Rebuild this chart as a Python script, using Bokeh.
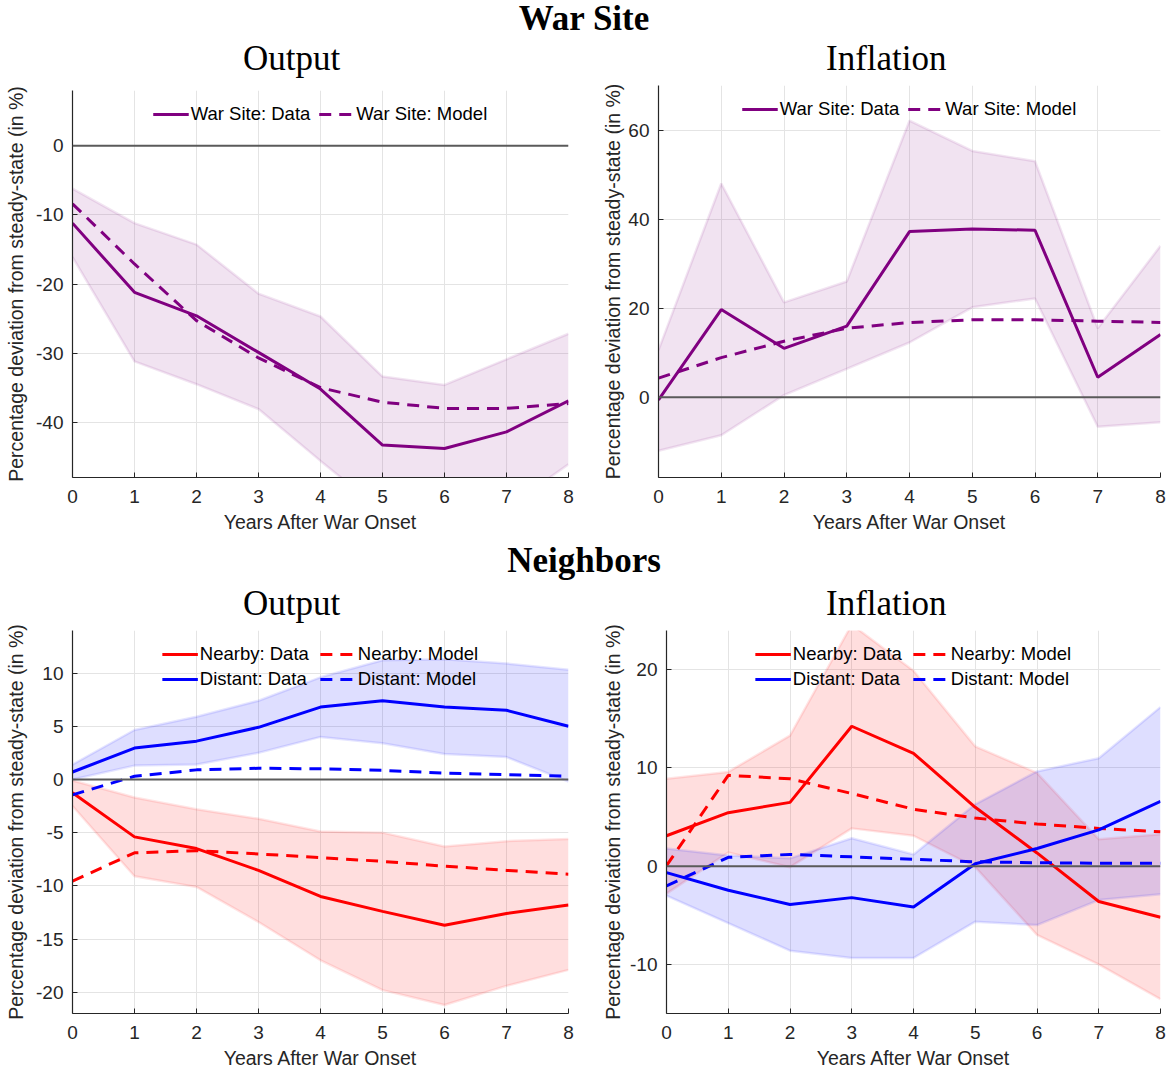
from bokeh.plotting import figure
from bokeh.models import Range1d, Span, Legend, LegendItem, Div, FixedTicker
from bokeh.layouts import column, row
from bokeh.embed import file_html
from bokeh.resources import INLINE

years = [0, 1, 2, 3, 4, 5, 6, 7, 8]
x_ticks = [0, 1, 2, 3, 4, 5, 6, 7, 8]
x_tick_labels = ["0", "1", "2", "3", "4", "5", "6", "7", "8"]

# War site: output
ws_out_data = [-11.2, -21.2, -24.6, -29.9, -35.2, -43.3, -43.8, -41.4, -36.9]
ws_out_model = [-8.4, -17.1, -25.3, -30.7, -35.0, -37.1, -38.0, -38.0, -37.3]
ws_out_hi = [-6.2, -11.2, -14.3, -21.4, -24.7, -33.4, -34.6, -30.9, -27.2]
ws_out_lo = [-16.1, -31.2, -34.5, -38.1, -45.6, -52.9, -55.0, -52.4, -46.1]
ws_out_yticks = [-40, -30, -20, -10, 0]
ws_out_ylabels = ["-40", "-30", "-20", "-10", "0"]

# War site: inflation
ws_inf_data = [-0.6, 19.7, 11.0, 16.0, 37.2, 37.8, 37.5, 4.5, 14.1]
ws_inf_model = [4.3, 8.9, 12.6, 15.5, 16.8, 17.4, 17.4, 17.1, 16.8]
ws_inf_hi = [10.6, 48.0, 21.3, 26.0, 62.1, 55.3, 53.0, 15.5, 34.0]
ws_inf_lo = [-12.0, -8.5, 0.5, 6.4, 12.3, 20.2, 22.2, -6.6, -5.6]
ws_inf_yticks = [0, 20, 40, 60]
ws_inf_ylabels = ["0", "20", "40", "60"]

# Neighbors: output
nb_out_near_data = [-1.25, -5.4, -6.5, -8.55, -11.0, -12.4, -13.7, -12.6, -11.8]
nb_out_near_model = [-9.55, -6.9, -6.7, -7.0, -7.35, -7.7, -8.15, -8.55, -8.9]
nb_out_near_hi = [-0.1, -1.7, -2.8, -3.7, -4.9, -5.0, -6.3, -5.8, -5.6]
nb_out_near_lo = [-2.5, -9.1, -10.1, -13.4, -17.0, -19.8, -21.2, -19.4, -17.9]
nb_out_dist_data = [0.7, 2.95, 3.6, 4.9, 6.8, 7.4, 6.8, 6.5, 5.0]
nb_out_dist_model = [-1.45, 0.3, 0.9, 1.05, 1.0, 0.85, 0.6, 0.45, 0.3]
nb_out_dist_hi = [1.4, 4.65, 5.9, 7.4, 9.6, 11.2, 11.3, 10.9, 10.3]
nb_out_dist_lo = [0.0, 1.3, 1.4, 2.5, 4.0, 3.4, 2.4, 2.1, -0.2]
nb_out_yticks = [-20, -15, -10, -5, 0, 5, 10]
nb_out_ylabels = ["-20", "-15", "-10", "-5", "0", "5", "10"]

# Neighbors: inflation
nb_inf_near_data = [3.1, 5.45, 6.5, 14.25, 11.5, 6.0, 1.35, -3.6, -5.2]
nb_inf_near_model = [0.05, 9.25, 8.9, 7.4, 5.8, 4.9, 4.3, 3.85, 3.5]
nb_inf_near_hi = [8.9, 9.6, 13.3, 24.6, 19.9, 12.2, 9.5, 2.75, 3.25]
nb_inf_near_lo = [-2.8, 1.4, -0.1, 3.85, 3.1, -0.1, -7.0, -10.0, -13.55]
nb_inf_dist_data = [-0.65, -2.45, -3.9, -3.2, -4.15, 0.25, 1.8, 3.7, 6.6]
nb_inf_dist_model = [-2.0, 0.9, 1.2, 0.95, 0.7, 0.45, 0.35, 0.3, 0.3]
nb_inf_dist_hi = [1.8, 1.1, 0.8, 2.85, 1.2, 6.3, 9.65, 11.0, 16.2]
nb_inf_dist_lo = [-3.0, -5.8, -8.6, -9.35, -9.35, -5.65, -6.0, -3.45, -2.85]
nb_inf_yticks = [-10, 0, 10, 20]
nb_inf_ylabels = ["-10", "0", "10", "20"]

PURPLE = "#800080"
RED = "#ff0000"
BLUE = "#0000ff"
DARK = "#262626"
SANS = "Liberation Sans"
SERIF = "Liberation Serif"
DASH = "12 8"


def make_fig(width, height, left, right, top, bottom, ylim, yticks, ylabels, ylab_standoff):
    p = figure(width=width, height=height, output_backend="svg", toolbar_location=None,
               x_range=Range1d(0, 8), y_range=Range1d(*ylim),
               min_border_left=left, min_border_right=right,
               min_border_top=top, min_border_bottom=bottom)
    p.outline_line_color = None
    p.background_fill_color = "white"
    p.border_fill_color = "white"
    p.xaxis.ticker = FixedTicker(ticks=x_ticks)
    p.yaxis.ticker = FixedTicker(ticks=yticks)
    p.xaxis.major_label_overrides = dict(zip(x_ticks, x_tick_labels))
    p.yaxis.major_label_overrides = dict(zip(yticks, ylabels))
    p.xgrid.ticker = FixedTicker(ticks=x_ticks)
    p.ygrid.ticker = FixedTicker(ticks=yticks)
    p.grid.grid_line_color = "#e4e4e4"
    p.grid.grid_line_width = 1
    for ax in (p.xaxis, p.yaxis):
        ax.axis_line_color = DARK
        ax.axis_line_width = 1.2
        ax.major_tick_in = 5
        ax.major_tick_out = 0
        ax.major_tick_line_color = DARK
        ax.minor_tick_line_color = None
        ax.major_label_text_font = SANS
        ax.major_label_text_font_size = "19px"
        ax.major_label_text_color = DARK
        ax.axis_label_text_font = SANS
        ax.axis_label_text_font_size = "19.5px"
        ax.axis_label_text_font_style = "normal"
        ax.axis_label_text_color = DARK
    p.xaxis.axis_label = "Years After War Onset"
    p.yaxis.axis_label = "Percentage deviation from steady-state (in %)"
    p.xaxis.major_label_standoff = 12
    p.yaxis.major_label_standoff = 9
    p.xaxis.axis_label_standoff = 5
    p.yaxis.axis_label_standoff = ylab_standoff
    return p


def band(p, lo, hi, color, alpha):
    p.varea(x=years, y1=lo, y2=hi, fill_color=color, fill_alpha=alpha)
    p.line(years, hi, line_color=color, line_alpha=0.1, line_width=2.5)
    p.line(years, lo, line_color=color, line_alpha=0.1, line_width=2.5)


def zero(p):
    p.add_layout(Span(location=0, dimension="width", line_color="#5a5a5a", line_width=2))


def add_legend(p, items, spacing, margin, label_width=None):
    leg = Legend(items=items, location="top_center", orientation="horizontal", ncols=2)
    leg.background_fill_alpha = 0
    leg.border_line_color = None
    leg.label_text_font = SANS
    leg.label_text_font_size = "18.5px"
    leg.label_text_color = "#000000"
    leg.glyph_width = 36
    leg.glyph_height = 16
    leg.label_height = 16
    leg.label_standoff = 2
    leg.spacing = spacing
    leg.padding = 2
    leg.margin = margin
    if label_width is not None:
        leg.label_width = label_width
    p.add_layout(leg)


# ---- Top left
p1 = make_fig(590, 458, 72, 22, 10, 61, (-48, 8), ws_out_yticks, ws_out_ylabels, 6)
band(p1, ws_out_lo, ws_out_hi, PURPLE, 0.11)
zero(p1)
l1 = p1.line(years, ws_out_data, line_color=PURPLE, line_width=3)
l2 = p1.line(years, ws_out_model, line_color=PURPLE, line_width=3, line_dash=DASH)
add_legend(p1, [LegendItem(label="War Site: Data", renderers=[l1]),
                LegendItem(label="War Site: Model", renderers=[l2])], 8, 13)

# ---- Top right
p2 = make_fig(578, 458, 68, 8, 5, 61, (-18, 70), ws_inf_yticks, ws_inf_ylabels, 1)
band(p2, ws_inf_lo, ws_inf_hi, PURPLE, 0.11)
zero(p2)
m1 = p2.line(years, ws_inf_data, line_color=PURPLE, line_width=3)
m2 = p2.line(years, ws_inf_model, line_color=PURPLE, line_width=3, line_dash=DASH)
add_legend(p2, [LegendItem(label="War Site: Data", renderers=[m1]),
                LegendItem(label="War Site: Model", renderers=[m2])], 8, 13)

# ---- Bottom left
p3 = make_fig(590, 447, 72, 22, 6, 55, (-22, 14), nb_out_yticks, nb_out_ylabels, 6)
band(p3, nb_out_near_lo, nb_out_near_hi, RED, 0.13)
band(p3, nb_out_dist_lo, nb_out_dist_hi, BLUE, 0.13)
zero(p3)
a1 = p3.line(years, nb_out_near_data, line_color=RED, line_width=3)
a2 = p3.line(years, nb_out_near_model, line_color=RED, line_width=3, line_dash=DASH)
a3 = p3.line(years, nb_out_dist_data, line_color=BLUE, line_width=3)
a4 = p3.line(years, nb_out_dist_model, line_color=BLUE, line_width=3, line_dash=DASH)
add_legend(p3, [LegendItem(label="Nearby: Data", renderers=[a1]),
                LegendItem(label="Nearby: Model", renderers=[a2]),
                LegendItem(label="Distant: Data", renderers=[a3]),
                LegendItem(label="Distant: Model", renderers=[a4])], 3, 13, 117)

# ---- Bottom right
p4 = make_fig(578, 447, 76, 8, 6, 55, (-15, 24), nb_inf_yticks, nb_inf_ylabels, 3)
band(p4, nb_inf_near_lo, nb_inf_near_hi, RED, 0.13)
band(p4, nb_inf_dist_lo, nb_inf_dist_hi, BLUE, 0.13)
zero(p4)
b1 = p4.line(years, nb_inf_near_data, line_color=RED, line_width=3)
b2 = p4.line(years, nb_inf_near_model, line_color=RED, line_width=3, line_dash=DASH)
b3 = p4.line(years, nb_inf_dist_data, line_color=BLUE, line_width=3)
b4 = p4.line(years, nb_inf_dist_model, line_color=BLUE, line_width=3, line_dash=DASH)
add_legend(p4, [LegendItem(label="Nearby: Data", renderers=[b1]),
                LegendItem(label="Nearby: Model", renderers=[b2]),
                LegendItem(label="Distant: Data", renderers=[b3]),
                LegendItem(label="Distant: Model", renderers=[b4])], 3, 13, 117)


def header(text, h):
    return Div(text=text, width=1168, height=h, margin=0,
               styles={"font-family": SERIF, "font-weight": "bold", "font-size": "35px",
                       "text-align": "center", "line-height": f"{h}px", "width": "1168px",
                       "color": "#000000"})


def subtitle(text, w, h, indent):
    return Div(text=text, width=w, height=h, margin=0,
               styles={"font-family": SERIF, "font-weight": "normal", "font-size": "35px",
                       "text-align": "left", "text-indent": f"{indent}px",
                       "line-height": f"{h}px", "width": f"{w}px", "color": "#000000",
                       "white-space": "nowrap"})


layout = column(
    header("War Site", 38),
    row(subtitle("Output", 590, 42, 243), subtitle("Inflation", 578, 42, 236), spacing=0),
    row(column(p1, spacing=0), column(p2, spacing=0), spacing=0),
    header("Neighbors", 46),
    row(subtitle("Output", 590, 40, 243), subtitle("Inflation", 578, 40, 236), spacing=0),
    row(p3, p4, spacing=0),
    spacing=0)

open("out.html", "w").write(file_html(layout, INLINE))
